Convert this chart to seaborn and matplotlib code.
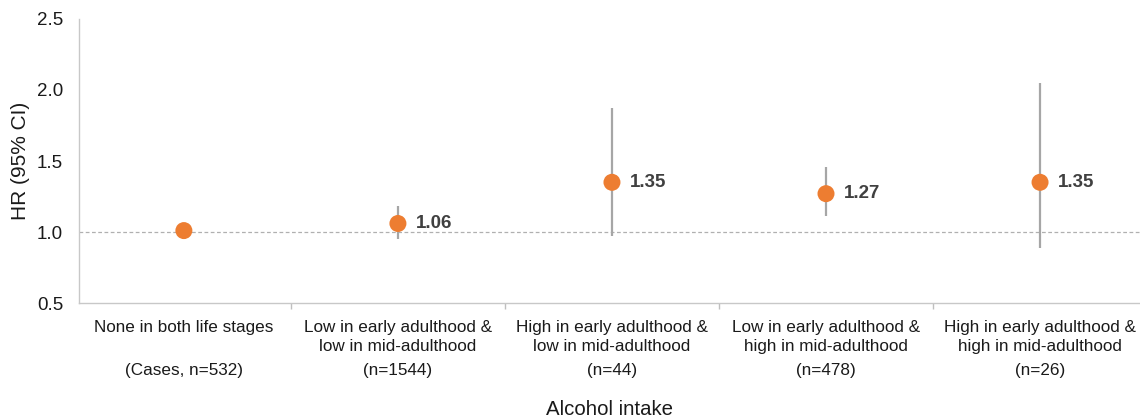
import seaborn as sns
import matplotlib.pyplot as plt
import pandas as pd
import numpy as np

# データ
categories = [
    "None in both life stages\n",
    "Low in early adulthood &\nlow in mid-adulthood",
    "High in early adulthood &\nlow in mid-adulthood",
    "Low in early adulthood &\nhigh in mid-adulthood",
    "High in early adulthood &\nhigh in mid-adulthood",
]
case_counts = ["(Cases, n=532)", "(n=1544)", "(n=44)", "(n=478)", "(n=26)"]
hr = [1.01, 1.06, 1.35, 1.27, 1.35]
ci_low = [np.nan, 0.95, 0.97, 1.11, 0.89]
ci_high = [np.nan, 1.18, 1.87, 1.46, 2.05]
hr_labels = ["", "1.06", "1.35", "1.27", "1.35"]

df = pd.DataFrame({"pos": np.arange(len(categories)), "hr": hr,
                   "lo": ci_low, "hi": ci_high, "label": hr_labels})

sns.set_theme(style="white")
plt.rcParams['font.family'] = ['Liberation Sans', 'DejaVu Sans']

fig = plt.figure(figsize=(11.4, 4.19), dpi=100)
ax = fig.add_axes([0.0693, 0.2768, 0.9307, 0.6779])

# 基準線
ax.axhline(1.0, color="#b0b0b0", lw=0.9, ls=(0, (3, 2)), zorder=1)

# 信頼区間
ax.vlines(df["pos"], df["lo"], df["hi"], color="#a6a6a6", lw=1.6, zorder=2)

sns.scatterplot(data=df, x="pos", y="hr", ax=ax, s=150, color="#ED7D31",
                edgecolor="none", zorder=3, legend=False)

for _, r in df.iterrows():
    if r["label"]:
        ax.annotate(r["label"], (r["pos"], r["hr"]), xytext=(13, 0),
                    textcoords="offset points", ha="left", va="center",
                    fontsize=13.5, fontweight="bold", color="#404040")

# 症例数
for p, t in zip(df["pos"], case_counts):
    ax.text(p, -0.236, t, transform=ax.get_xaxis_transform(), ha="center",
            va="center", fontsize=12.3, color="#1a1a1a")

ax.set_xlim(-0.49, 4.467)
ax.set_ylim(0.5, 2.5)
ax.set_yticks([0.5, 1.0, 1.5, 2.0, 2.5])
ax.set_yticklabels(["0.5", "1.0", "1.5", "2.0", "2.5"], fontsize=13.5, color="#1a1a1a")
ax.set_xticks(df["pos"])
ax.set_xticklabels(categories, fontsize=12.3, color="#1a1a1a", linespacing=1.35)
ax.set_xticks([0.5, 1.5, 2.5, 3.5], minor=True)
ax.tick_params(axis="x", which="major", length=0, pad=12)
ax.tick_params(axis="x", which="minor", length=4, color="#bfbfbf", direction="out", bottom=True)
ax.tick_params(axis="y", length=0, pad=11.5)

ax.set_xlabel("Alcohol intake", fontsize=14.7, color="#1a1a1a", va="center")
ax.xaxis.set_label_coords(0.5, -0.375)
ax.set_ylabel("HR (95% CI)", fontsize=15, color="#1a1a1a", labelpad=5)

sns.despine(ax=ax)
for s in ["left", "bottom"]:
    ax.spines[s].set_color("#c8c8c8")
    ax.spines[s].set_linewidth(1.0)

fig.savefig("out.png", dpi=100)
